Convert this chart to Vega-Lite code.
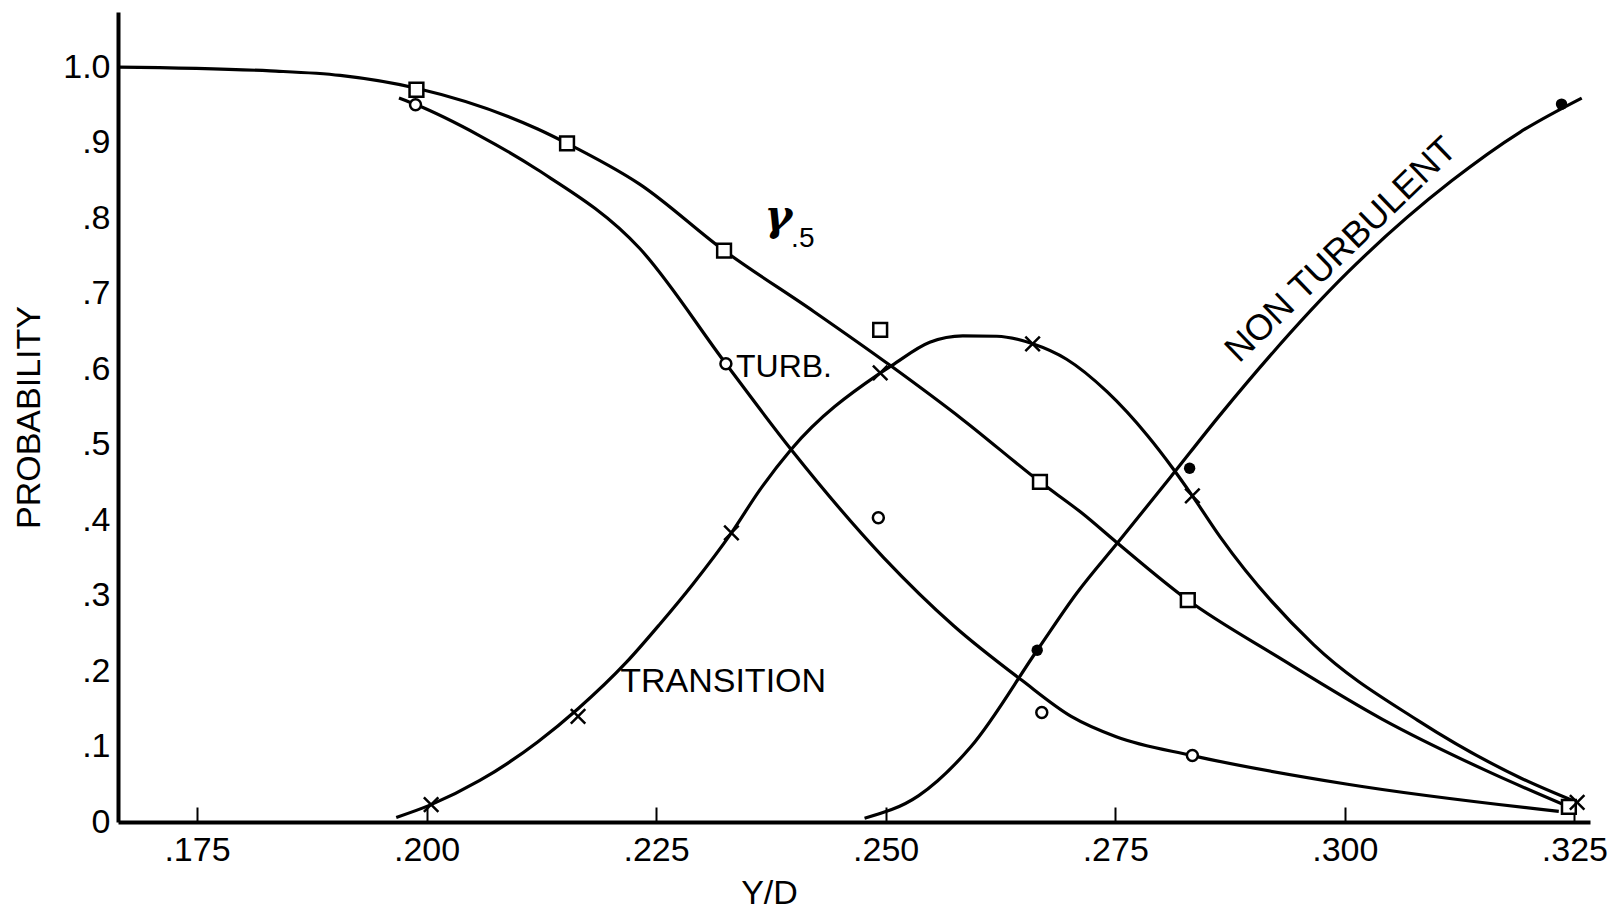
{
  "$schema": "https://vega.github.io/schema/vega-lite/v6.json",
  "width": 1472,
  "height": 810,
  "autosize": {"type": "none"},
  "padding": {"left": 118, "top": 12, "right": 25, "bottom": 92},
  "background": "white",
  "config": {"view": {"stroke": null}, "font": "Liberation Sans"},
  "resolve": {"axis": {"x": "independent", "y": "independent"}},
  "datasets": {
    "curves": [
      {"series": "gamma", "x": 0.1664, "y": 1.0},
      {"series": "gamma", "x": 0.183, "y": 0.995},
      {"series": "gamma", "x": 0.1906, "y": 0.989},
      {"series": "gamma", "x": 0.1989, "y": 0.972},
      {"series": "gamma", "x": 0.2121, "y": 0.918},
      {"series": "gamma", "x": 0.2153, "y": 0.899},
      {"series": "gamma", "x": 0.2232, "y": 0.845},
      {"series": "gamma", "x": 0.2324, "y": 0.757},
      {"series": "gamma", "x": 0.2422, "y": 0.676},
      {"series": "gamma", "x": 0.2507, "y": 0.603},
      {"series": "gamma", "x": 0.2584, "y": 0.533},
      {"series": "gamma", "x": 0.2668, "y": 0.4506},
      {"series": "gamma", "x": 0.2714, "y": 0.409},
      {"series": "gamma", "x": 0.2751, "y": 0.371},
      {"series": "gamma", "x": 0.2829, "y": 0.294},
      {"series": "gamma", "x": 0.2928, "y": 0.218},
      {"series": "gamma", "x": 0.3041, "y": 0.136},
      {"series": "gamma", "x": 0.3154, "y": 0.068},
      {"series": "gamma", "x": 0.3244, "y": 0.02},
      {"series": "turb", "x": 0.197, "y": 0.959},
      {"series": "turb", "x": 0.1989, "y": 0.95},
      {"series": "turb", "x": 0.2058, "y": 0.909},
      {"series": "turb", "x": 0.2121, "y": 0.864},
      {"series": "turb", "x": 0.2232, "y": 0.76},
      {"series": "turb", "x": 0.2326, "y": 0.607},
      {"series": "turb", "x": 0.2397, "y": 0.4935},
      {"series": "turb", "x": 0.2498, "y": 0.35},
      {"series": "turb", "x": 0.2574, "y": 0.26},
      {"series": "turb", "x": 0.2648, "y": 0.188},
      {"series": "turb", "x": 0.2702, "y": 0.14},
      {"series": "turb", "x": 0.2751, "y": 0.113},
      {"series": "turb", "x": 0.2834, "y": 0.088},
      {"series": "turb", "x": 0.3003, "y": 0.05},
      {"series": "turb", "x": 0.3233, "y": 0.014},
      {"series": "transition", "x": 0.1967, "y": 0.006},
      {"series": "transition", "x": 0.2005, "y": 0.023},
      {"series": "transition", "x": 0.2058, "y": 0.055},
      {"series": "transition", "x": 0.2121, "y": 0.106},
      {"series": "transition", "x": 0.2165, "y": 0.15},
      {"series": "transition", "x": 0.2218, "y": 0.212},
      {"series": "transition", "x": 0.2254, "y": 0.262},
      {"series": "transition", "x": 0.229, "y": 0.315},
      {"series": "transition", "x": 0.2332, "y": 0.383},
      {"series": "transition", "x": 0.2363, "y": 0.44},
      {"series": "transition", "x": 0.2397, "y": 0.4935},
      {"series": "transition", "x": 0.2492, "y": 0.593},
      {"series": "transition", "x": 0.2507, "y": 0.605},
      {"series": "transition", "x": 0.2548, "y": 0.6355},
      {"series": "transition", "x": 0.2584, "y": 0.644},
      {"series": "transition", "x": 0.2621, "y": 0.6435},
      {"series": "transition", "x": 0.266, "y": 0.6335},
      {"series": "transition", "x": 0.2697, "y": 0.613},
      {"series": "transition", "x": 0.2741, "y": 0.57},
      {"series": "transition", "x": 0.2785, "y": 0.512},
      {"series": "transition", "x": 0.2813, "y": 0.468},
      {"series": "transition", "x": 0.2834, "y": 0.432},
      {"series": "transition", "x": 0.2864, "y": 0.378},
      {"series": "transition", "x": 0.2966, "y": 0.235},
      {"series": "transition", "x": 0.3079, "y": 0.135},
      {"series": "transition", "x": 0.3192, "y": 0.058},
      {"series": "transition", "x": 0.3253, "y": 0.026},
      {"series": "nonturb", "x": 0.2477, "y": 0.005},
      {"series": "nonturb", "x": 0.2536, "y": 0.035},
      {"series": "nonturb", "x": 0.2593, "y": 0.1},
      {"series": "nonturb", "x": 0.2665, "y": 0.2275},
      {"series": "nonturb", "x": 0.2708, "y": 0.303},
      {"series": "nonturb", "x": 0.2755, "y": 0.3735},
      {"series": "nonturb", "x": 0.2809, "y": 0.455},
      {"series": "nonturb", "x": 0.2864, "y": 0.539},
      {"series": "nonturb", "x": 0.3003, "y": 0.728},
      {"series": "nonturb", "x": 0.3116, "y": 0.849},
      {"series": "nonturb", "x": 0.3191, "y": 0.914},
      {"series": "nonturb", "x": 0.3258, "y": 0.959}
    ],
    "points": [
      {"kind": "square", "x": 0.1989, "y": 0.97},
      {"kind": "square", "x": 0.2153, "y": 0.899},
      {"kind": "square", "x": 0.2324, "y": 0.757},
      {"kind": "square", "x": 0.2494, "y": 0.652},
      {"kind": "square", "x": 0.2668, "y": 0.4506},
      {"kind": "square", "x": 0.2829, "y": 0.294},
      {"kind": "square", "x": 0.3244, "y": 0.02},
      {"kind": "circle", "x": 0.1988, "y": 0.95},
      {"kind": "circle", "x": 0.2326, "y": 0.607},
      {"kind": "circle", "x": 0.2492, "y": 0.403},
      {"kind": "circle", "x": 0.267, "y": 0.145},
      {"kind": "circle", "x": 0.2834, "y": 0.088},
      {"kind": "cross", "x": 0.2005, "y": 0.023},
      {"kind": "cross", "x": 0.2165, "y": 0.14},
      {"kind": "cross", "x": 0.2332, "y": 0.383},
      {"kind": "cross", "x": 0.2494, "y": 0.595},
      {"kind": "cross", "x": 0.266, "y": 0.6335},
      {"kind": "cross", "x": 0.2834, "y": 0.432},
      {"kind": "cross", "x": 0.3253, "y": 0.026},
      {"kind": "dot", "x": 0.2665, "y": 0.2275},
      {"kind": "dot", "x": 0.2831, "y": 0.4687},
      {"kind": "dot", "x": 0.3236, "y": 0.951}
    ],
    "yticks": [
      {"tick": 0.1}, {"tick": 0.2}, {"tick": 0.3}, {"tick": 0.4}, {"tick": 0.5},
      {"tick": 0.6}, {"tick": 0.7}, {"tick": 0.8}, {"tick": 0.9}
    ],
    "labels": [
      {"id": "turb", "x": 0.2337, "y": 0.603, "text": "TURB."},
      {"id": "transition", "x": 0.2323, "y": 0.185, "text": "TRANSITION"},
      {"id": "gamma", "x": 0.2383, "y": 0.802, "text": "γ"},
      {"id": "sub", "x": 0.2397, "y": 0.772, "text": ".5"},
      {"id": "nonturb", "x": 0.2996, "y": 0.758, "text": "NON  TURBULENT"}
    ]
  },
  "encoding": {
    "x": {"field": "x", "type": "quantitative", "scale": {"domain": [0.1664, 0.3267], "nice": false, "zero": false}, "axis": null},
    "y": {"field": "y", "type": "quantitative", "scale": {"domain": [0, 1.073], "nice": false, "zero": false}, "axis": null}
  },
  "layer": [
    {
      "data": {"name": "curves"},
      "mark": {"type": "line", "interpolate": "monotone", "color": "black", "strokeWidth": 3.2},
      "encoding": {
        "x": {
          "field": "x",
          "type": "quantitative",
          "scale": {"domain": [0.1664, 0.3267], "nice": false, "zero": false},
          "axis": {
            "title": "Y/D",
            "values": [0.175, 0.2, 0.225, 0.25, 0.275, 0.3, 0.325],
            "labelExpr": "replace(format(datum.value, '.3f'), '0.', '.')",
            "grid": false,
            "ticks": false,
            "domainColor": "black",
            "domainWidth": 4,
            "labelPadding": 11,
            "labelFontSize": 34,
            "labelColor": "black",
            "labelFont": "Liberation Sans",
            "titleFont": "Liberation Sans",
            "titleFontSize": 34,
            "titleFontWeight": "normal",
            "titleColor": "black",
            "titleX": 651,
            "titleY": 71,
            "titleAlign": "center",
            "titleBaseline": "middle"
          }
        },
        "y": {
          "field": "y",
          "type": "quantitative",
          "scale": {"domain": [0, 1.073], "nice": false, "zero": false},
          "axis": {
            "title": "PROBABILITY",
            "values": [0, 0.1, 0.2, 0.3, 0.4, 0.5, 0.6, 0.7, 0.8, 0.9, 1.0],
            "labelExpr": "datum.value == 0 ? '0' : replace(format(datum.value, '.1f'), '0.', '.')",
            "grid": false,
            "ticks": false,
            "domainColor": "black",
            "domainWidth": 4,
            "labelPadding": 8,
            "labelFontSize": 34,
            "labelColor": "black",
            "labelFont": "Liberation Sans",
            "titleFont": "Liberation Sans",
            "titleFontSize": 34,
            "titleFontWeight": "normal",
            "titleColor": "black",
            "titleX": -89,
            "titleY": 405,
            "titleAngle": -90,
            "titleAlign": "center",
            "titleBaseline": "middle"
          }
        },
        "detail": {"field": "series", "type": "nominal"}
      }
    },
    {
      "data": {"name": "points"},
      "mark": {"type": "point", "opacity": 0},
      "encoding": {
        "x": {
          "field": "x",
          "type": "quantitative",
          "scale": {"domain": [0.1664, 0.3267], "nice": false, "zero": false},
          "axis": {
            "orient": "top",
            "offset": -810,
            "title": null,
            "labels": false,
            "domain": false,
            "grid": false,
            "ticks": true,
            "values": [0.175, 0.2, 0.225, 0.25, 0.275, 0.3, 0.325],
            "tickSize": 15,
            "tickWidth": 2,
            "tickColor": "black"
          }
        }
      }
    },
    {
      "data": {"name": "points"},
      "transform": [{"filter": "datum.kind == 'square'"}],
      "mark": {"type": "point", "shape": "square", "size": 190, "filled": true, "fill": "white", "stroke": "black", "strokeWidth": 2.5, "opacity": 1}
    },
    {
      "data": {"name": "points"},
      "transform": [{"filter": "datum.kind == 'circle'"}],
      "mark": {"type": "point", "shape": "circle", "size": 120, "filled": true, "fill": "white", "stroke": "black", "strokeWidth": 2.5, "opacity": 1}
    },
    {
      "data": {"name": "points"},
      "transform": [{"filter": "datum.kind == 'cross'"}],
      "mark": {"type": "point", "shape": "M-1,-1L1,1M-1,1L1,-1", "size": 210, "filled": false, "stroke": "black", "strokeWidth": 2.5, "opacity": 1}
    },
    {
      "data": {"name": "points"},
      "transform": [{"filter": "datum.kind == 'dot'"}],
      "mark": {"type": "point", "shape": "circle", "size": 130, "filled": true, "color": "black", "opacity": 1}
    },
    {
      "data": {"name": "labels"},
      "transform": [{"filter": "datum.id == 'turb'"}],
      "mark": {"type": "text", "align": "left", "baseline": "middle", "fontSize": 32, "font": "Liberation Sans", "color": "black"},
      "encoding": {"text": {"field": "text"}}
    },
    {
      "data": {"name": "labels"},
      "transform": [{"filter": "datum.id == 'transition'"}],
      "mark": {"type": "text", "align": "center", "baseline": "middle", "fontSize": 34, "font": "Liberation Sans", "color": "black"},
      "encoding": {"text": {"field": "text"}}
    },
    {
      "data": {"name": "labels"},
      "transform": [{"filter": "datum.id == 'gamma'"}],
      "mark": {"type": "text", "align": "center", "baseline": "middle", "fontSize": 42, "font": "DejaVu Serif", "fontStyle": "italic", "fontWeight": "bold", "color": "black"},
      "encoding": {"text": {"field": "text"}}
    },
    {
      "data": {"name": "labels"},
      "transform": [{"filter": "datum.id == 'sub'"}],
      "mark": {"type": "text", "align": "left", "baseline": "middle", "fontSize": 28, "font": "Liberation Sans", "color": "black"},
      "encoding": {"text": {"field": "text"}}
    },
    {
      "data": {"name": "labels"},
      "transform": [{"filter": "datum.id == 'nonturb'"}],
      "mark": {"type": "text", "align": "center", "baseline": "middle", "fontSize": 36, "angle": -44, "font": "Liberation Sans", "color": "black"},
      "encoding": {"text": {"field": "text"}}
    },
    {
      "data": {"name": "yticks"},
      "mark": {"type": "rule", "color": "black", "strokeWidth": 4.5, "opacity": 1},
      "encoding": {
        "y": {"field": "tick", "type": "quantitative", "axis": null},
        "x": {"datum": 0.1664, "type": "quantitative", "axis": null},
        "x2": {"datum": 0.16825}
      }
    }
  ]
}
